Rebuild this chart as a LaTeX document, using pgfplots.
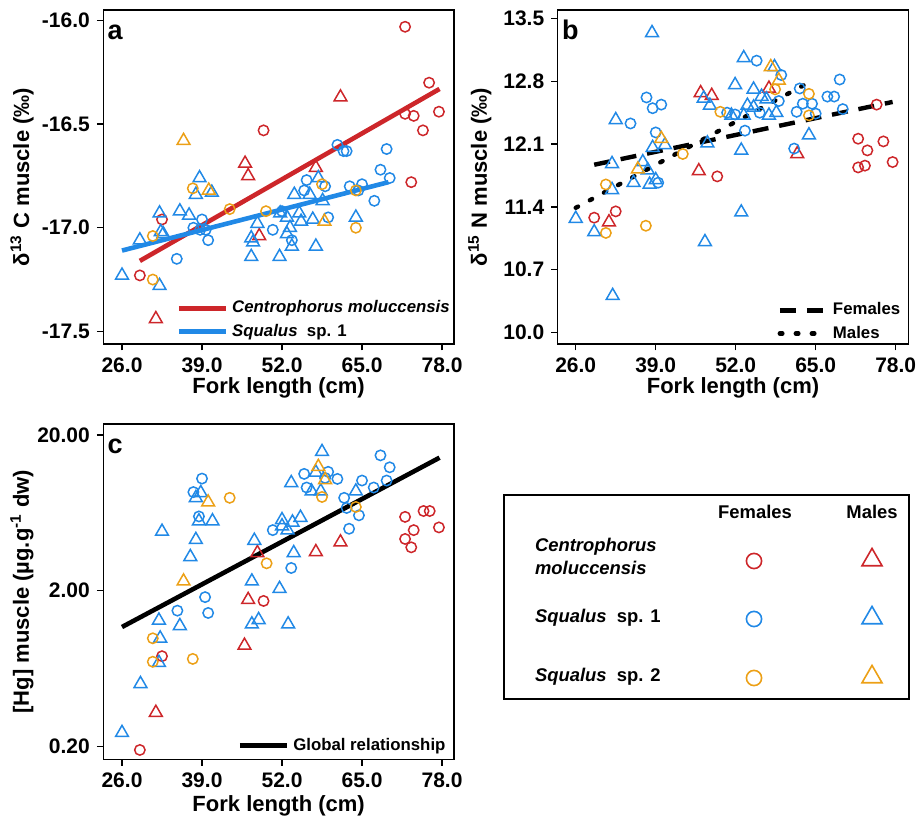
\documentclass[border=0pt]{standalone}
\usepackage{fontspec}
\setmainfont{Liberation Sans}
\usepackage{pgfplots}
\pgfplotsset{compat=1.18}

\definecolor{cmred}{RGB}{205,38,42}
\definecolor{sqblue}{RGB}{33,137,230}
\definecolor{sqorange}{RGB}{236,160,22}

\pgfplotsset{
  panel/.style={
    scale only axis, anchor=south west,
    width=175.35pt, height=167pt,
    axis line style={line width=0.7pt},
    xtick pos=bottom, ytick pos=left, tick align=outside,
    major tick length=3.2pt,
    tick style={line width=0.7pt, black},
    xtick={26,39,52,65,78},
    xticklabels={26.0,39.0,52.0,65.0,78.0},
    xmin=22.96, xmax=79.95,
    ticklabel style={font=\fontsize{10.5}{12}\selectfont\bfseries},
    label style={font=\fontsize{11}{13}\selectfont\bfseries},
    xlabel={Fork length (cm)},
    xlabel style={at={(axis description cs:0.5,-0.132)}, anchor=center},
    ylabel style={at={(axis description cs:-0.232,0.5)}, anchor=center},
    legend style={draw=none, fill=none, inner sep=0pt,
      font=\fontsize{8.4}{10}\selectfont\bfseries, row sep=0pt},
    legend cell align=left,
    legend image code/.code={\draw[##1] (0pt,0pt) -- (23.5pt,0pt);},
  },
  circ/.style={only marks, mark=o, mark size=2.6pt,
    mark options={draw=#1, line width=0.75pt}, forget plot},
  tri/.style={only marks, mark=triangle, mark size=3.7pt,
    mark options={draw=#1, line width=0.75pt}, forget plot},
  keycirc/.style={only marks, mark=o, mark size=3.8pt,
    mark options={draw=#1, line width=0.8pt}},
  keytri/.style={only marks, mark=triangle, mark size=5.8pt,
    mark options={draw=#1, line width=0.8pt}},
}
\tikzset{
  letter/.style={anchor=base west, inner sep=0pt, xshift=2pt, yshift=-14.6pt,
    font=\fontsize{13.5}{15}\selectfont\bfseries},
  keytext/.style={font=\fontsize{9.2}{11}\selectfont\bfseries},
}

\begin{document}
\begin{tikzpicture}
\useasboundingbox (0,0) rectangle (459.5pt,411pt);

%% ---------- panel a : d13C ----------
\begin{axis}[panel, at={(51.65pt,239pt)},
  ymin=-17.561, ymax=-15.949,
  ytick={-17.5,-17,-16.5,-16},
  yticklabels={-17.5,-17.0,-16.5,-16.0},
  ylabel={δ\textsuperscript{13} C muscle (‰)},
  legend style={at={(0.208,0.072)}, anchor=west},
]
% Centrophorus moluccensis, females
\addplot[circ=cmred] coordinates {(72.0,-16.03) (75.9,-16.30) (72.0,-16.45) (73.4,-16.46)
  (77.5,-16.44) (74.9,-16.53) (49.0,-16.53) (73.0,-16.78) (32.5,-16.96) (28.9,-17.23)};
% C. moluccensis, males
\addplot[tri=cmred] coordinates {(61.5,-16.37) (46.0,-16.69) (46.5,-16.75) (57.5,-16.71)
  (48.3,-17.04) (31.5,-17.44)};
% Squalus sp. 1, females
\addplot[circ=sqblue] coordinates {(61.0,-16.60) (62.0,-16.63) (62.5,-16.63) (69.0,-16.62)
  (68.0,-16.72) (69.5,-16.76) (56.0,-16.77) (59.0,-16.80) (55.6,-16.82) (63.0,-16.80)
  (65.0,-16.79) (64.4,-16.82) (67.0,-16.87) (52.0,-16.92) (59.5,-16.95) (39.0,-16.96)
  (37.6,-17.00) (38.7,-17.01) (39.6,-17.01) (40.0,-17.06) (34.9,-17.15) (50.5,-17.01)
  (53.6,-17.06)};
% Squalus sp. 1, males
\addplot[tri=sqblue] coordinates {(38.6,-16.76) (38.0,-16.84) (40.6,-16.83) (57.9,-16.76)
  (54.0,-16.84) (56.5,-16.84) (58.6,-16.87) (51.7,-16.93) (54.8,-16.93) (52.8,-16.95)
  (55.1,-16.97) (57.0,-16.96) (64.0,-16.95) (32.1,-16.93) (35.4,-16.92) (36.9,-16.94)
  (32.3,-17.02) (32.7,-17.03) (28.9,-17.06) (26.0,-17.23) (32.1,-17.28) (48.0,-16.98)
  (47.0,-17.05) (47.3,-17.07) (47.0,-17.14) (51.6,-17.14) (53.3,-17.00) (52.8,-17.03)
  (53.6,-17.09) (57.5,-17.09)};
% Squalus sp. 2
\addplot[circ=sqorange] coordinates {(37.5,-16.81) (58.5,-16.79) (64.0,-16.82) (43.5,-16.91)
  (49.4,-16.92) (64.0,-17.00) (31.0,-17.04) (31.0,-17.25)};
\addplot[tri=sqorange] coordinates {(36.0,-16.58) (40.1,-16.82) (58.9,-16.97)};
% fitted lines
\addplot[cmred, line width=2.3pt] coordinates {(28.9,-17.16) (77.6,-16.33)};
\addlegendentry{\textit{Centrophorus moluccensis}}
\addplot[sqblue, line width=2.3pt] coordinates {(26.0,-17.11) (69.3,-16.78)};
\addlegendentry{\textit{Squalus}\ \ sp. 1}
\node[letter] at (rel axis cs:0,1) {a};
\end{axis}

%% ---------- panel b : d15N ----------
\begin{axis}[panel, at={(278.85pt,239pt)}, width=175.3pt,
  xmin=23.07, xmax=80.05,
  ymin=9.872, ymax=13.595,
  ytick={10,10.7,11.4,12.1,12.8,13.5},
  yticklabels={10.0,10.7,11.4,12.1,12.8,13.5},
  ylabel={δ\textsuperscript{15} N muscle (‰)},
  ylabel style={at={(axis description cs:-0.222,0.5)}},
  legend style={at={(0.626,0.066)}, anchor=west},
]
\addplot[circ=cmred] coordinates {(74.9,12.54) (71.9,12.16) (73.4,12.03) (76.0,12.13)
  (71.9,11.84) (73.0,11.86) (77.5,11.90) (49.0,11.74) (29.0,11.28) (32.5,11.35)};
\addplot[tri=cmred] coordinates {(57.4,12.72) (46.3,12.67) (48.1,12.64) (62.0,11.99)
  (46.0,11.80) (31.4,11.23)};
\addplot[circ=sqblue] coordinates {(55.4,13.03) (59.4,12.87) (68.9,12.82) (62.4,12.72)
  (66.9,12.63) (68.0,12.63) (37.5,12.62) (38.5,12.50) (39.9,12.54) (59.0,12.58)
  (50.6,12.45) (51.9,12.43) (55.9,12.45) (61.9,12.46) (62.9,12.55) (64.4,12.55)
  (65.0,12.44) (69.4,12.49) (34.9,12.33) (39.0,12.23) (53.5,12.25) (61.5,12.05)
  (39.4,11.67)};
\addplot[tri=sqblue] coordinates {(38.4,13.34) (53.3,13.06) (58.3,12.96) (51.9,12.76)
  (54.9,12.71) (46.8,12.61) (47.8,12.53) (56.2,12.63) (57.0,12.60) (53.9,12.53)
  (54.9,12.51) (57.4,12.42) (58.6,12.45) (51.3,12.42) (53.3,12.42) (32.5,12.37)
  (38.5,12.06) (40.5,12.09) (63.9,12.20) (47.4,12.11) (52.9,12.03) (31.9,11.88)
  (36.9,11.90) (37.7,11.81) (35.4,11.67) (38.0,11.65) (39.0,11.70) (31.9,11.59)
  (26.0,11.27) (29.0,11.12) (47.0,11.01) (52.9,11.34) (32.0,10.41)};
\addplot[circ=sqorange] coordinates {(58.4,12.71) (63.9,12.66) (49.5,12.46) (63.9,12.42)
  (43.4,11.99) (30.9,11.65) (30.9,11.11) (37.4,11.19)};
\addplot[tri=sqorange] coordinates {(57.7,12.96) (59.0,12.81) (39.9,12.16) (36.1,11.82)};
\addplot[black, line width=2.2pt, dash pattern=on 8pt off 5.5pt] coordinates {(29.0,11.87) (77.5,12.57)};
\addlegendentry{Females}
\addplot[black, line width=2.2pt, line cap=round, dash pattern=on 1.3pt off 6.7pt] coordinates {(26.0,11.39) (63.7,12.78)};
\addlegendentry{Males}
\node[letter] at (rel axis cs:0,1) {b};
\end{axis}

%% ---------- panel c : Hg ----------
\begin{axis}[panel, at={(51.65pt,31.35pt)}, height=167.65pt,
  ymode=log, ymin=0.1655, ymax=23.53,
  ytick={0.2,2,20}, yticklabels={0.20,2.00,20.00},
  minor tick num=0, minor y tick style={draw=none},
  ylabel={[Hg] muscle (µg.g\textsuperscript{-1} dw)},
  xlabel style={at={(axis description cs:0.5,-0.139)}},
  legend style={at={(0.382,0.041)}, anchor=west},
]
\addplot[circ=cmred] coordinates {(72.0,5.96) (75.0,6.5) (76.0,6.5) (77.5,5.1) (73.4,4.9)
  (72.0,4.3) (73.0,3.8) (49.0,1.72) (32.5,0.76) (28.9,0.19)};
\addplot[tri=cmred] coordinates {(48.0,3.5) (57.5,3.55) (61.5,4.1) (46.5,1.75) (45.9,0.89)
  (31.5,0.33)};
\addplot[circ=sqblue] coordinates {(68.0,14.8) (69.5,12.4) (55.6,11.25) (59.5,11.6)
  (59.0,10.6) (61.0,10.45) (65.0,10.2) (69.0,10.2) (66.9,9.2) (56.0,9.2) (62.1,7.9)
  (62.5,6.8) (64.5,6.1) (62.9,5.0) (39.0,10.5) (37.6,8.6) (38.5,6.0) (50.5,4.9)
  (53.5,2.8) (39.5,1.82) (35.0,1.49) (40.0,1.44)};
\addplot[tri=sqblue] coordinates {(58.5,15.6) (57.5,11.5) (53.5,9.85) (56.8,8.7) (58.3,8.7)
  (64.0,8.7) (38.0,7.9) (38.8,8.5) (38.5,5.6) (40.7,5.6) (32.5,4.8) (38.0,4.25)
  (37.1,3.3) (52.0,5.7) (53.7,5.5) (55.0,5.9) (52.0,5.2) (52.9,4.9) (47.5,4.2)
  (53.9,3.5) (47.1,2.3) (51.6,2.06) (32.0,1.29) (35.4,1.19) (47.1,1.22) (48.2,1.30)
  (53.0,1.22) (32.2,0.99) (32.0,0.69) (29.0,0.505) (26.0,0.245)};
\addplot[circ=sqorange] coordinates {(58.5,8.0) (64.0,6.9) (43.5,7.9) (49.5,3.0)
  (31.0,0.99) (31.0,0.70) (37.5,0.73)};
\addplot[tri=sqorange] coordinates {(57.9,12.5) (59.0,10.3) (40.0,7.4) (36.0,2.3)};
\addplot[black, line width=2.3pt] coordinates {(26.0,1.17) (77.6,14.3)};
\addlegendentry{Global relationship}
\node[letter] at (rel axis cs:0,1) {c};
\end{axis}

%% ---------- shared key ----------
\begin{axis}[scale only axis, anchor=south west, at={(252pt,61.5pt)},
  width=202.5pt, height=102pt,
  xmin=0, xmax=405, ymin=0, ymax=204,
  xtick=\empty, ytick=\empty,
  axis line style={line width=0.7pt}, clip=false,
]
\addplot[keycirc=cmred] coordinates {(250,138)};
\addplot[keytri=cmred] coordinates {(368,139)};
\addplot[keycirc=sqblue] coordinates {(250,80)};
\addplot[keytri=sqblue] coordinates {(368,81)};
\addplot[keycirc=sqorange] coordinates {(250,21)};
\addplot[keytri=sqorange] coordinates {(368,22)};
\node[keytext] at (axis cs:251,187) {Females};
\node[keytext] at (axis cs:368,187) {Males};
\node[keytext, anchor=west] at (axis cs:24,152) {\textit{Centrophorus}};
\node[keytext, anchor=west] at (axis cs:24,131) {\textit{moluccensis}};
\node[keytext, anchor=west] at (axis cs:24,81) {\textit{Squalus}\ \ sp. 1};
\node[keytext, anchor=west] at (axis cs:24,22) {\textit{Squalus}\ \ sp. 2};
\end{axis}
\end{tikzpicture}
\end{document}
